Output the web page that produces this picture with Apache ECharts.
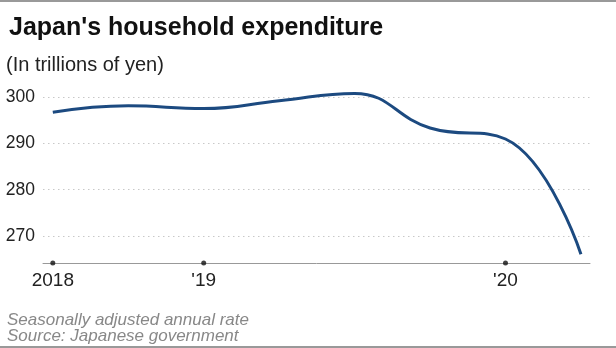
<!DOCTYPE html>
<html>
<head>
<meta charset="utf-8">
<script src="https://cdn.jsdelivr.net/npm/echarts@6/dist/echarts.min.js"></script>
<style>
html,body{margin:0;padding:0;background:#fff;}
#c{width:616px;height:348px;}
</style>
</head>
<body>
<div id="c"></div>
<script>
// Quarterly points, 2018 Q3 .. 2020 Q2 (index = quarter offset)
var quarters = [0, 1, 2, 3, 4, 5, 6, 7];
var expenditure = [296.8, 298.2, 297.6, 299.3, 300.9, 293.4, 291.0, 266.0];
var xTickValues = [0, 2, 6];
var xTickLabels = ['2018', "'19", "'20"];
var yTickValues = [270, 280, 290, 300];
var yMin = 264.1, yMax = 302.5;
var xMin = -0.13, xMax = 7.12;

var FONT = '"Liberation Sans", Arial, sans-serif';
var chart = echarts.init(document.getElementById('c'), null, {renderer: 'canvas'});
var labelMap = {};
xTickValues.forEach(function (v, i) { labelMap[v] = xTickLabels[i]; });

chart.setOption({
  animation: false,
  backgroundColor: '#fff',
  title: [
    {text: "Japan's household expenditure", left: 4, top: 11,
     textStyle: {fontFamily: FONT, fontSize: 25, fontWeight: 'bold', color: '#111'}},
    {text: '(In trillions of yen)', left: 1, top: 50,
     textStyle: {fontFamily: FONT, fontSize: 20, fontWeight: 'normal', color: '#222'}},
    {text: 'Seasonally adjusted annual rate\nSource: Japanese government', left: 2, top: 307,
     textStyle: {fontFamily: FONT, fontSize: 17, fontStyle: 'italic', fontWeight: 'normal', color: '#888', lineHeight: 16}}
  ],
  graphic: [
    {type: 'rect', shape: {x: 0, y: 0, width: 616, height: 2}, style: {fill: '#999'}},
    {type: 'rect', shape: {x: 0, y: 346, width: 616, height: 2}, style: {fill: '#999'}}
  ],
  grid: {left: 43, right: 26, top: 86, bottom: 85, containLabel: false},
  xAxis: {
    type: 'value', min: xMin, max: xMax,
    axisLine: {show: true, lineStyle: {color: '#999', width: 1}},
    axisTick: {show: false, customValues: xTickValues},
    splitLine: {show: false},
    axisLabel: {customValues: xTickValues, formatter: function (v) { return labelMap[v] || ''; },
      color: '#222', fontFamily: FONT, fontSize: 19, margin: 8}
  },
  yAxis: {
    type: 'value', min: yMin, max: yMax,
    axisLine: {show: false},
    axisTick: {show: false, customValues: yTickValues},
    axisLabel: {customValues: yTickValues, color: '#222', fontFamily: FONT, fontSize: 17.5, margin: 8},
    splitLine: {show: true, lineStyle: {color: '#c8c8c8', type: [1.5, 3.5], width: 1}}
  },
  series: [
    {type: 'line', data: quarters.map(function (q, i) { return [q, expenditure[i]]; }),
     smooth: 0.45, showSymbol: false, symbol: 'none',
     lineStyle: {color: '#1c4a80', width: 3}},
    {type: 'scatter', data: xTickValues.map(function (v) { return [v, yMin]; }),
     symbol: 'circle', symbolSize: 5, itemStyle: {color: '#111'}, clip: false, silent: true}
  ]
});
</script>
</body>
</html>
